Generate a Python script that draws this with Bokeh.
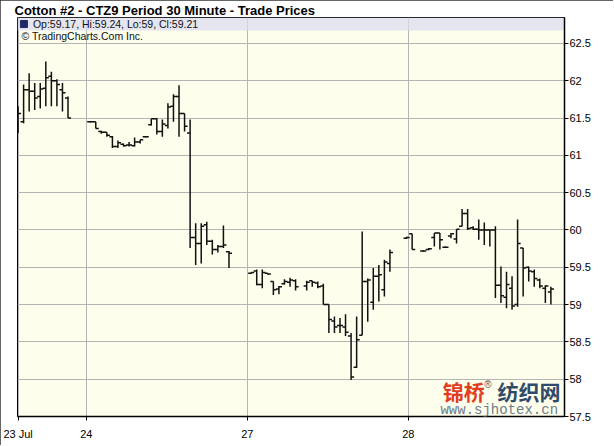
from bokeh.plotting import figure
from bokeh.models import (ColumnDataSource, FixedTicker, NumeralTickFormatter,
                          Range1d, BoxAnnotation, Label)
from bokeh.embed import file_html
from bokeh.resources import INLINE

title_text = "Cotton #2 - CTZ9 Period 30 Minute - Trade Prices"
credit_text = "\u00a9 TradingCharts.Com Inc."
day_labels = ["23 Jul", "24", "27", "28"]
day_ticks = [0, 12.3, 41.3, 70.3]
price_ticks = [57.5, 58, 58.5, 59, 59.5, 60, 60.5, 61, 61.5, 62, 62.5]

# 30-minute bar slots
slot = [0, 1, 2, 3, 4, 5, 6, 7, 8, 9,
        13, 14, 15, 16, 17, 18, 19, 20, 21, 22, 23, 24, 25, 26, 27, 28, 29, 30,
        31, 32, 33, 34, 35, 36, 37, 38,
        42, 43, 44, 45, 46, 47, 48, 49, 50, 52, 53, 54, 55, 56, 57, 58, 59, 60,
        61, 62, 63, 64, 65, 66, 67,
        70, 71, 73, 74, 75, 76, 77, 78, 79, 80, 81, 82, 83, 84, 85, 86, 87, 88,
        89, 90, 91, 92, 93, 94, 95, 96]
opn = [61.32, 61.45, 61.88, 61.86, 61.79, 61.90, 62.06, 62.00, 61.88, 61.77,
       61.45, 61.45, 61.32, 61.31, 61.25, 61.12, 61.15, 61.14, 61.13, 61.18, 61.25, 61.41, 61.49,
       61.32, 61.40, 61.66, 61.79, 61.56, 61.30, 59.90, 59.82, 60.07, 59.85, 59.74, 59.78, 59.71,
       59.42, 59.45, 59.27, 59.42, 59.31, 59.21, 59.28, 59.30, 59.32, 59.25, 59.32, 59.29, 59.25,
       59.00, 58.78, 58.72, 58.70, 58.58, 58.16, 58.59, 59.31, 59.03, 59.38, 59.20, 59.55,
       59.89, 59.95, 59.72, 59.74, 59.90, 59.96, 59.77, 59.92, 59.88, 60.05, 60.22, 60.03, 60.01,
       60.00, 60.00, 60.00, 59.26, 59.10, 59.22, 59.00, 59.76, 59.50, 59.44, 59.33, 59.22, 59.17]
high = [61.66, 61.95, 62.10, 61.97, 61.97, 62.26, 62.12, 62.02, 61.97, 61.79,
        61.46, 61.45, 61.33, 61.31, 61.26, 61.20, 61.16, 61.18, 61.24, 61.21, 61.26, 61.49, 61.50,
        61.48, 61.70, 61.82, 61.94, 61.56, 61.48, 60.09, 60.09, 60.11, 59.87, 59.80, 60.06, 59.72,
        59.43, 59.47, 59.47, 59.42, 59.31, 59.25, 59.34, 59.36, 59.34, 59.32, 59.32, 59.31, 59.28,
        59.00, 58.84, 58.82, 58.87, 58.62, 58.84, 59.98, 59.35, 59.49, 59.53, 59.60, 59.74,
        59.91, 59.95, 59.73, 59.76, 59.96, 59.96, 59.78, 59.96, 60.01, 60.28, 60.28, 60.05, 60.14,
        60.10, 60.00, 60.05, 59.51, 59.44, 59.38, 60.14, 59.76, 59.51, 59.47, 59.35, 59.26, 59.24]
low = [61.30, 61.43, 61.59, 61.61, 61.63, 61.66, 61.66, 61.66, 61.59, 61.50,
       61.44, 61.36, 61.29, 61.25, 61.10, 61.10, 61.12, 61.12, 61.12, 61.16, 61.24, 61.40, 61.28,
       61.25, 61.36, 61.45, 61.25, 61.32, 59.76, 59.53, 59.55, 59.80, 59.67, 59.70, 59.76, 59.49,
       59.41, 59.26, 59.22, 59.40, 59.13, 59.14, 59.27, 59.24, 59.19, 59.19, 59.24, 59.22, 59.00,
       58.62, 58.62, 58.62, 58.58, 57.99, 58.15, 58.59, 58.77, 58.93, 59.04, 59.11, 59.44,
       59.88, 59.74, 59.71, 59.73, 59.78, 59.74, 59.76, 59.89, 59.82, 60.05, 60.00, 60.00, 59.87,
       59.80, 59.78, 59.09, 59.02, 58.95, 58.93, 58.97, 59.11, 59.31, 59.24, 59.22, 59.02, 59.00]
close = [61.56, 61.88, 61.86, 61.77, 61.89, 62.04, 62.00, 61.95, 61.84, 61.50,
         61.45, 61.36, 61.31, 61.27, 61.12, 61.17, 61.13, 61.14, 61.18, 61.21, 61.25, 61.49, 61.32,
         61.42, 61.65, 61.79, 61.56, 61.39, 59.90, 59.82, 60.05, 59.85, 59.74, 59.78, 59.80, 59.69,
         59.43, 59.27, 59.43, 59.41, 59.20, 59.24, 59.31, 59.33, 59.24, 59.30, 59.30, 59.24, 59.00,
         58.80, 58.70, 58.72, 58.63, 58.03, 58.53, 59.31, 59.33, 59.38, 59.40, 59.57, 59.70,
         59.90, 59.74, 59.72, 59.75, 59.96, 59.87, 59.77, 59.95, 60.01, 60.22, 60.02, 60.01, 60.00,
         60.00, 60.00, 59.26, 59.12, 59.27, 58.98, 59.82, 59.49, 59.45, 59.35, 59.25, 59.25, 59.21]

TICK = 0.55
src = ColumnDataSource(dict(
    x=slot, o=opn, h=high, l=low, c=close,
    xl=[s - TICK for s in slot], xr=[s + TICK for s in slot]))

Y_TOP = 62.8485
p = figure(frame_width=547, frame_height=399,
           x_range=Range1d(-0.1, 98.45), y_range=Range1d(57.5, Y_TOP),
           y_axis_location="right", output_backend="svg", toolbar_location=None,
           min_border_left=17, min_border_right=49, min_border_bottom=29,
           min_border_top=0, title=title_text)
p.styles = {"outline": "1px solid #333333", "outline-offset": "-1px"}

p.title.text_font = "Liberation Sans"
p.title.text_font_size = "13px"
p.title.text_font_style = "bold"
p.title.text_color = "black"
p.title.align = "left"
p.title.offset = -3
p.title.standoff = 0

p.background_fill_color = "#FEFEEC"
p.border_fill_color = "white"
p.outline_line_color = "black"
p.outline_line_width = 1

p.xgrid.ticker = FixedTicker(ticks=day_ticks)
p.ygrid.ticker = FixedTicker(ticks=price_ticks)
p.grid.grid_line_color = "#B4B4B4"
p.grid.grid_line_width = 1

xa = p.xaxis[0]
xa.ticker = FixedTicker(ticks=day_ticks)
xa.major_label_overrides = {t: lab for t, lab in zip(day_ticks, day_labels)}
xa.major_tick_out = 4
xa.major_tick_in = 0
xa.minor_tick_out = 0
xa.major_label_standoff = 7
xa.axis_line_color = "black"
xa.axis_line_width = 1.5
xa.major_tick_line_color = "black"
xa.major_label_text_font = "Liberation Sans"
xa.major_label_text_font_size = "11px"
xa.major_label_text_color = "black"

ya = p.yaxis[0]
ya.ticker = FixedTicker(ticks=price_ticks)
ya.formatter = NumeralTickFormatter(format="0.[0]")
ya.major_tick_out = 4
ya.major_tick_in = 0
ya.minor_tick_out = 0
ya.major_label_standoff = 1
ya.axis_line_color = "black"
ya.axis_line_width = 1.5
ya.major_tick_line_color = "black"
ya.major_label_text_font = "Liberation Sans"
ya.major_label_text_font_size = "11px"
ya.major_label_text_color = "black"

# legend band (below the glyphs so the colour square stays dark)
p.add_layout(BoxAnnotation(bottom=62.674, fill_color="#DCDCF2", fill_alpha=0.75,
                           line_alpha=0, level="underlay"))

BAR = "#111111"
p.segment(x0="x", y0="l", x1="x", y1="h", source=src, line_color=BAR, line_width=1.5)
p.segment(x0="xl", y0="o", x1="x", y1="o", source=src, line_color=BAR, line_width=1.5)
p.segment(x0="x", y0="c", x1="xr", y1="c", source=src, line_color=BAR, line_width=1.5)

legend_text = "Op:%g, Hi:%g, Lo:%g, Cl:%g" % (opn[-1], high[-1], low[-1], close[-1])
p.scatter(x=[1.06], y=[62.761], marker="square", size=7, color="#1E2A66")
p.add_layout(Label(x=2.68, y=62.755, text=legend_text, text_baseline="middle",
                   text_font="Liberation Sans", text_font_size="10.5px",
                   text_color="#111111"))
p.add_layout(Label(x=0.61, y=62.594, text=credit_text, text_baseline="middle",
                   text_font="Liberation Sans", text_font_size="10.5px",
                   text_color="#111111"))

# watermark (kept inside the plot area)
p.add_layout(Label(x=76.5, y=57.84, text="锦桥", text_baseline="middle",
                   text_font="Noto Sans CJK SC", text_font_size="21px",
                   text_font_style="bold", text_color="#E23D22"))
p.add_layout(Label(x=84.0, y=57.93, text="®", text_baseline="middle",
                   text_font="Liberation Sans", text_font_size="10px",
                   text_color="#555555"))
p.add_layout(Label(x=86.4, y=57.84, text="纺织网", text_baseline="middle",
                   text_font="Noto Sans CJK SC", text_font_size="21px",
                   text_font_style="bold", text_color="#2F4A6A"))
p.add_layout(Label(x=76.1, y=57.585, text="www.sjhotex.cn", text_baseline="middle",
                   text_font="Liberation Mono", text_font_size="14px",
                   text_color="#6E7C8A"))

open("out.html", "w").write(file_html(p, INLINE))
